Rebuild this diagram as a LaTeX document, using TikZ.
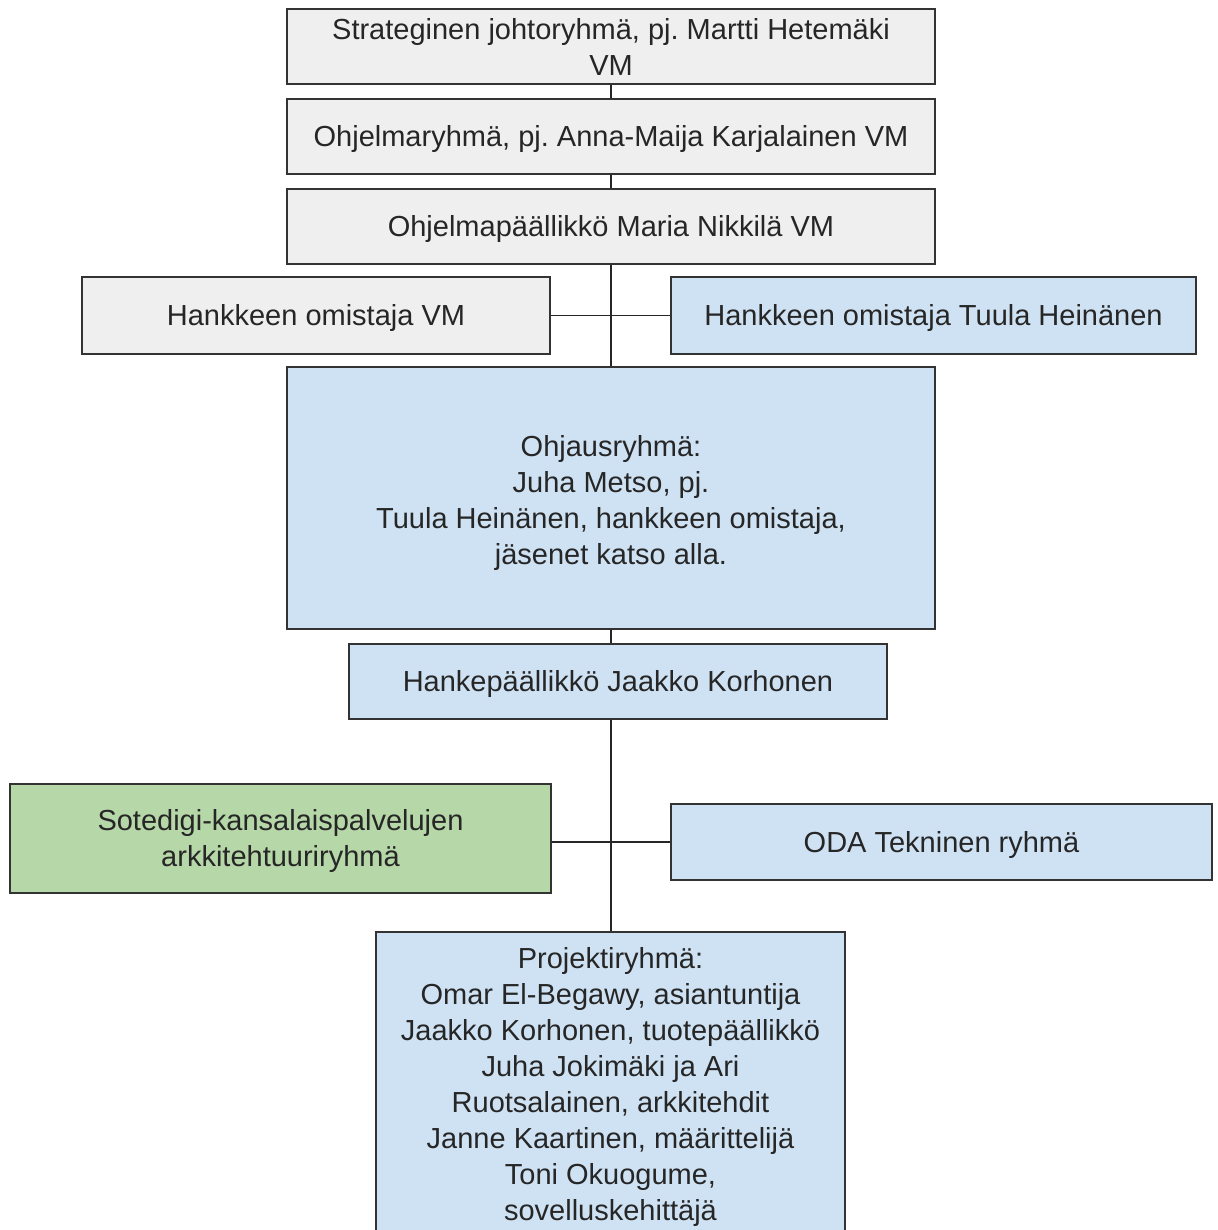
\documentclass[tikz,border=0pt]{standalone}
\usepackage{fontspec}
\setmainfont{Liberation Sans}
\frenchspacing
\definecolor{boxgray}{HTML}{EFEFEF}
\definecolor{boxblue}{HTML}{CFE2F3}
\definecolor{boxgreen}{HTML}{B6D7A8}
\definecolor{edge}{HTML}{333333}
\begin{document}
\begin{tikzpicture}[x=1pt,y=-1pt,
  box/.style={draw=edge,line width=1.4pt,rectangle,inner sep=0pt,align=center,
    font=\fontsize{29}{36}\selectfont\frenchspacing,text=black!85,
    execute at begin node={\rule{0pt}{27pt}}},
  gbox/.style={box,fill=boxgray},
  bbox/.style={box,fill=boxblue},
  grbox/.style={box,fill=boxgreen},
  conn/.style={draw=black!85,line width=1.4pt}]
\useasboundingbox (0,0) rectangle (1217,1230);
\clip (0,0) rectangle (1217,1230);
\node[gbox,minimum width=648pt,minimum height=75pt] (s1) at (611,46.5) {Strateginen johtoryhmä, pj. Martti Hetemäki\\VM};
\node[gbox,minimum width=648pt,minimum height=75pt] (s2) at (611,136.5) {Ohjelmaryhmä, pj. Anna-Maija Karjalainen VM};
\node[gbox,minimum width=648pt,minimum height=75pt] (s3) at (611,226.5) {Ohjelmapäällikkö Maria Nikkilä VM};
\node[gbox,minimum width=468pt,minimum height=77pt] (own1) at (316,315.5) {Hankkeen omistaja VM};
\node[bbox,minimum width=525pt,minimum height=77pt] (own2) at (933.5,315.5) {Hankkeen omistaja Tuula Heinänen};
\node[bbox,minimum width=648pt,minimum height=262pt] (ohj) at (611,498) {\rule{0pt}{31pt}Ohjausryhmä:\\Juha Metso, pj.\\Tuula Heinänen, hankkeen omistaja,\\jäsenet katso alla.};
\node[bbox,minimum width=538pt,minimum height=75pt] (hp) at (618,681.5) {Hankepäällikkö Jaakko Korhonen};
\node[grbox,minimum width=541pt,minimum height=109pt] (sote) at (280.5,838.5) {\rule{0pt}{25pt}Sotedigi-kansalaispalvelujen\\arkkitehtuuriryhmä};
\node[bbox,minimum width=541pt,minimum height=76pt] (oda) at (941.5,842) {ODA Tekninen ryhmä};
\node[bbox,minimum width=469pt,minimum height=318pt,execute at begin node={}] (proj) at (610.5,1091) {};
\node[anchor=north,align=center,inner sep=0pt,font=\fontsize{29}{36}\selectfont\frenchspacing,text=black!85] (projtext) at (610.5,947) {Projektiryhmä:\\Omar El-Begawy, asiantuntija\\Jaakko Korhonen, tuotepäällikkö\\Juha Jokimäki ja Ari\\Ruotsalainen, arkkitehdit\\ Janne Kaartinen, määrittelijä\\Toni Okuogume,\\sovelluskehittäjä};
\draw[conn] (s1.south) -- (s2.north);
\draw[conn] (s2.south) -- (s3.north);
\draw[conn] (s3.south) -- (ohj.north);
\draw[conn] (own1.east) -- (own2.west);
\draw[conn] (ohj.south) -- (ohj.south |- hp.north);
\draw[conn] (hp.south -| ohj.south) -- (proj.north -| ohj.south);
\draw[conn] (oda.west -| sote.east) -- (oda.west);
\end{tikzpicture}
\end{document}
